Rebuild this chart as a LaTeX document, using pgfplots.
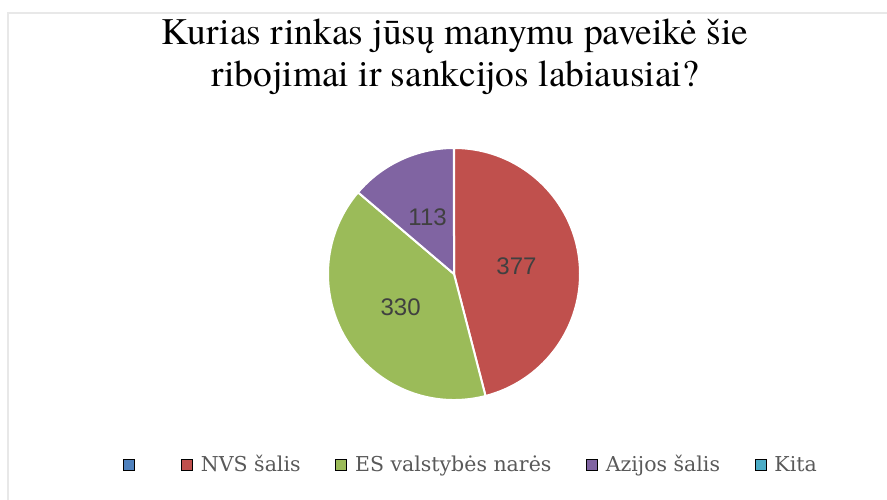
\documentclass[border=0pt]{standalone}
\usepackage{pgfplots}
\pgfplotsset{compat=1.18}
\usepackage{pgfplotstable}
\usepackage{fontspec}
\newfontfamily\titlefont{texgyretermes-regular.otf}
\newfontfamily\labfont{Liberation Sans}
\newfontfamily\legfont{DejaVu Serif}
\definecolor{cBlue}{HTML}{4F81BD}
\definecolor{cRed}{HTML}{C0504D}
\definecolor{cGreen}{HTML}{9BBB59}
\definecolor{cPurple}{HTML}{8064A2}
\definecolor{cCyan}{HTML}{4BACC6}
\definecolor{cFrame}{HTML}{E8E8E8}
\definecolor{cLab}{HTML}{404040}
\definecolor{cLeg}{HTML}{595959}

\pgfplotstableread{
category value
NVS 377
ES 330
Azija 113
}\piedata

\pgfplotsset{
  sq/.style={legend image code/.code={\fill[##1] (0bp,-5.5bp) rectangle (11bp,5.5bp);}},
}

\begin{document}
\begin{tikzpicture}
\pgfplotstablegetelem{0}{value}\of\piedata \edef\vA{\pgfplotsretval}
\pgfplotstablegetelem{1}{value}\of\piedata \edef\vB{\pgfplotsretval}
\pgfplotstablegetelem{2}{value}\of\piedata \edef\vC{\pgfplotsretval}
\pgfmathsetmacro\tot{\vA+\vB+\vC}
\pgfmathsetmacro\aA{90}
\pgfmathsetmacro\aB{\aA-360*(\vA/\tot)}
\pgfmathsetmacro\aC{\aB-360*(\vB/\tot)}
\pgfmathsetmacro\aD{\aC-360*(\vC/\tot)}
\pgfmathsetmacro\mA{(\aA+\aB)/2}
\pgfmathsetmacro\mB{(\aB+\aC)/2}
\pgfmathsetmacro\mC{(\aC+\aD)/2}
\path[use as bounding box] (0,0) rectangle (887bp,500bp);
\draw[cFrame, line width=1.5bp] (8bp,0) -- (8bp,487bp) -- (887bp,487bp);
\node[anchor=base, inner sep=0, font=\titlefont\fontsize{37.5bp}{42bp}\selectfont] at (455bp,455bp) {Kurias rinkas jūsų manymu paveikė šie};
\node[anchor=base, inner sep=0, font=\titlefont\fontsize{37.5bp}{42bp}\selectfont] at (455bp,413bp) {ribojimai ir sankcijos labiausiai?};
\begin{axis}[at={(454bp,226bp)}, anchor=center, scale only axis,
  width=252bp, height=252bp, xmin=-1, xmax=1, ymin=-1, ymax=1,
  hide axis, clip=false,
  legend columns=5,
  legend style={at={(0.5625,-0.256)}, anchor=center, draw=none, fill=none,
    font=\legfont\fontsize{20.5bp}{23bp}\selectfont, text=cLeg,
    nodes={inner sep=0pt}, cells={anchor=west},
    /tikz/every odd column/.append style={column sep=8.5bp},
    /tikz/every even column/.append style={column sep=34.5bp}},
]
\addlegendimage{sq, fill=cBlue}\addlegendentry{\hspace*{4bp}}
\addlegendimage{sq, fill=cRed}\addlegendentry{NVS šalis}
\addlegendimage{sq, fill=cGreen}\addlegendentry{ES valstybės narės}
\addlegendimage{sq, fill=cPurple}\addlegendentry{Azijos šalis}
\addlegendimage{sq, fill=cCyan}\addlegendentry{Kita}
\fill[cRed, draw=white, line width=2bp] (axis cs:0,0) -- (axis cs:{cos(\aA)},{sin(\aA)}) arc[start angle=\aA, end angle=\aB, radius=126bp] -- cycle;
\fill[cGreen, draw=white, line width=2bp] (axis cs:0,0) -- (axis cs:{cos(\aB)},{sin(\aB)}) arc[start angle=\aB, end angle=\aC, radius=126bp] -- cycle;
\fill[cPurple, draw=white, line width=2bp] (axis cs:0,0) -- (axis cs:{cos(\aC)},{sin(\aC)}) arc[start angle=\aC, end angle=\aD, radius=126bp] -- cycle;
\node[font=\labfont\fontsize{24bp}{26bp}\selectfont, text=cLab] at (axis cs:{0.5*cos(\mA)},{0.5*sin(\mA)}) {\vA};
\node[font=\labfont\fontsize{24bp}{26bp}\selectfont, text=cLab] at (axis cs:{0.5*cos(\mB)},{0.5*sin(\mB)}) {\vB};
\node[font=\labfont\fontsize{24bp}{26bp}\selectfont, text=cLab] at (axis cs:{0.5*cos(\mC)},{0.5*sin(\mC)}) {\vC};
\end{axis}
\end{tikzpicture}
\end{document}
